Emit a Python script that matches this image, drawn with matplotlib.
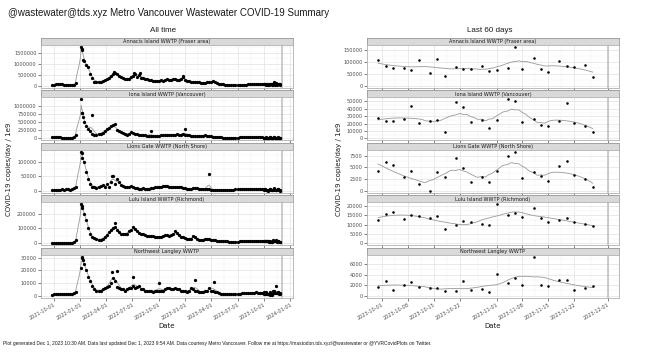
import numpy as np
import pandas as pd
import matplotlib
matplotlib.use("Agg")
import matplotlib.pyplot as plt
import matplotlib.dates as mdates
from matplotlib.ticker import MultipleLocator, FuncFormatter, FixedLocator

plants = [
    "Annacis Island WWTP (Fraser area)",
    "Iona Island WWTP (Vancouver)",
    "Lions Gate WWTP (North Shore)",
    "Lulu Island WWTP (Richmond)",
    "Northwest Langley WWTP",
]

# all time: weekly readings (thousands) from 2021-09-25 to 2023-09-23, nan = no sample
week_start = "2021-09-25"
nan = np.nan
annacis_k = [60, 65, 70, 70, 75, 70, 60, 50, 40, 35, 35, 50, 150, nan, nan, 1650, 1100, 950, 850, 550,
             350, 200, 180, 200, 190, 210, 250, 300, 350, 450, 550, 580, 520, 450, 400, 350, 320, 300, 330, 400,
             450, 550, 420, 480, 380, 350, 320, 300, 280, 250, 230, 220, 210, 230, 250, 230, 280, 320, 290, 260,
             300, 330, 280, 260, 300, 420, 270, 240, 220, 200, 190, 180, 170, 160, 150, 140, 150, 160, 180, 200,
             210, 170, 140, 110, 90, 70, 60, 50, 45, 40, 35, 30, 30, 35, 40, 50, 60, 70, 75, 80,
             85, 80, 90, 85, 95]
iona_k = [35, 35, 30, 30, 30, 25, 25, 25, 20, 20, 25, 40, 100, nan, nan, 760, 500, 380, 300, 220,
          150, 120, 110, 130, 150, 180, 230, 280, 330, 380, 420, 450, 250, 220, 200, 160, 130, 120, 150, 200,
          180, 150, 130, 110, 100, 90, 100, 80, 80, 70, 70, 70, 80, 80, 90, 100, 110, 120, 100, 110,
          120, 110, 130, 120, 110, 150, 120, 100, 90, 80, 70, 60, 60, 60, 70, 80, 90, 80, 70, 60,
          50, 45, 40, 35, 30, 25, 25, 25, 25, 25, 25, 25, 25, 30, 30, 35, 35, 35, 35, 40,
          35, 40, 35, 30, 30]
lions_k = [4, 3, 4, 4, 3, 5, 4, 6, 5, 4, 5, 10, 15, nan, nan, 130, 100, 65, 40, 25,
           15, 15, 10, 15, 18, 20, 15, 25, 15, 30, 50, 25, 40, 30, 20, 18, 15, 12, 15, 18,
           12, 10, 10, 8, 8, 10, 8, 8, 8, 10, 10, 12, 12, 14, 15, 16, 18, 18, 15, 15,
           12, 14, 15, 14, 12, 10, 10, 8, 6, 8, 10, 11, 10, 8, 6, 5, 5, 5, 5, 4,
           4, 4, 4, 4, 4, 3, 4, 4, 4, 4, 4, 5, 5, 5, 6, 6, 5, 5, 6, 6,
           5, 6, 5, 5, 5]
lulu_k = [3, 3, 3, 3, 3, 3, 3, 3, 3, 4, 5, 8, 20, nan, nan, 250, 200, 160, 100, 60,
          40, 35, 30, 25, 25, 30, 40, 55, 75, 90, 105, 110, 90, 75, 65, 60, 60, 65, 80, 90,
          110, 95, 85, 70, 65, 60, 55, 50, 50, 50, 48, 45, 45, 42, 45, 50, 55, 55, 50, 55,
          60, 80, 70, 55, 45, 40, 35, 30, 28, 30, 50, 40, 30, 25, 22, 25, 28, 30, 28, 25,
          22, 20, 18, 15, 14, 13, 12, 12, 11, 10, 10, 10, 11, 12, 14, 15, 16, 17, 16, 15,
          15, 14, 14, 14, 13]
langley_k = [0.8, 1.2, 1.5, 1.2, 1.0, 1.5, 1.2, 1.0, 1.5, 1.2, 1.0, 2.0, 3.0, nan, nan, 30, 25, 20, 15, 12,
             8, 5, 4, 3.5, 4, 5, 6, 7, 8, 10, 14, 12, 7, 6, 5, 5, 4, 5, 6, 6,
             8, 6, 7, 8, 5, 5, 4, 4, 4, 4, 3, 4, 4, 4, 4, 4, 5, 6, 6, 5,
             5, 6, 5, 5, 4, 4, 4, 3, 4, 6, 5, 4, 4, 3, 3, 3, 4, 4, 6, 4,
             4, 3, 2.5, 2, 1.5, 1.2, 1, 1, 1, 1, 1, 1, 1.2, 1.5, 1.8, 2, 2, 2, 2, 2.2,
             2.2, 2.5, 2, 2, 2]

# extra single samples standing out of the weekly band (date, thousands)
extra_dates = [
    ["2022-01-04", "2022-01-06", "2022-01-11", "2022-04-27", "2022-07-06", "2022-07-27", "2022-12-23"],
    ["2022-01-04", "2022-01-06", "2022-01-11", "2022-02-10", "2022-09-03", "2022-12-31"],
    ["2022-01-04", "2022-01-06", "2022-04-21", "2023-03-23"],
    ["2022-01-04", "2022-01-06", "2022-05-03"],
    ["2022-01-04", "2022-01-06", "2022-01-11", "2022-04-21", "2022-05-09", "2022-07-04", "2022-10-02",
     "2023-02-05", "2023-04-10"],
]
extra_k = [
    [1750, 1600, 1150, 620, 600, 590, 450],
    [1190, 770, 650, 700, 230, 280],
    [135, 115, 50, 57],
    [265, 240, 135],
    [22, 31, 28, 18.5, 19.5, 14.5, 10, 12.5, 10.5],
]

# last 60 days
recent_dates = ["2023-09-30", "2023-10-02", "2023-10-04", "2023-10-07", "2023-10-09", "2023-10-11",
                "2023-10-14", "2023-10-16", "2023-10-18", "2023-10-21", "2023-10-23", "2023-10-25",
                "2023-10-28", "2023-10-30", "2023-11-01", "2023-11-04", "2023-11-06", "2023-11-08",
                "2023-11-11", "2023-11-13", "2023-11-15", "2023-11-18", "2023-11-20", "2023-11-22",
                "2023-11-25", "2023-11-27"]
annacis_recent = [107000, 82000, 76000, 76000, 68000, 110000, 54000, 112000, 43000, 81000, 72000, 72000,
                  84000, 63000, 65000, 75000, 163000, 69000, 119000, 73000, 59000, 106000, 85000, 79000,
                  88000, 38000]
iona_recent = [27600, 23800, 23800, 26700, 43800, 20500, 23800, 24300, 9000, 49000, 42400, 22900,
               24300, 14800, 25200, 52900, 50000, 22900, 26700, 18100, 17100, 23800, 47600, 21400,
               17100, 8600]
lions_recent = [4150, 6120, 5390, 2920, 4150, 1380, 50, 3940, 2840, 6920, 4880, 1970,
                2840, 1900, 4230, 7360, 8310, 2770, 3940, 3210, 2110, 5250, 6410, 3350,
                2550, 870]
lulu_recent = [12600, 15800, 16700, 13200, 15000, 14700, 13400, 14700, 7700, 10100, 11900, 11400,
               10400, 9700, 21100, 15400, 16500, 14100, 18900, 13700, 11500, 12300, 13600, 11200,
               10300, 9300]
langley_recent = [1670, 2800, 1130, 2070, 2530, 1670, 1400, 1470, 930, 800, 2870, 1000,
                  1330, 670, 4070, 2400, 3400, 2000, 7470, 2000, 1800, 2930, 2930, 1130,
                  1530, 1930]

today = "2023-12-01"
footer = ("Plot generated Dec 1, 2023 10:30 AM. Data last updated Dec 1, 2023 9:54 AM. "
          "Data courtesy Metro Vancouver. Follow me at https://mastodon.tds.xyz/@wastewater "
          "or @YVRCovidPlots on Twitter.")

weekly = [annacis_k, iona_k, lions_k, lulu_k, langley_k]
recent = [annacis_recent, iona_recent, lions_recent, lulu_recent, langley_recent]

all_steps = [500000, 250000, 50000, 100000, 10000]
recent_steps = [50000, 10000, 2500, 5000, 2000]


def loess(x, y, xs, span, deg):
    ok = ~np.isnan(y)
    x, y = x[ok], y[ok]
    k = max(int(np.ceil(span * len(x))), deg + 2)
    out = []
    for x0 in xs:
        d = np.abs(x - x0)
        h = np.sort(d)[k - 1] * 1.0001
        w = np.clip(1 - (d / h) ** 3, 0, None) ** 3
        sel = w > 0
        c = np.polyfit(x[sel] - x0, y[sel], deg, w=np.sqrt(w[sel]))
        out.append(c[-1])
    return np.array(out)


W, H = 652, 353
fig = plt.figure(figsize=(W / 100, H / 100), dpi=100)


def box(x0, top, w, h):
    return [x0 / W, 1 - (top + h) / H, w / W, h / H]


GRAY = "#4d4d4d"
tdate = pd.Timestamp(today)


def style_panel(ax, step, xmajor, xminor):
    ax.set_facecolor("white")
    for s in ax.spines.values():
        s.set_color("#b0b0b0")
        s.set_linewidth(0.6)
    ax.yaxis.set_major_locator(MultipleLocator(step))
    ax.yaxis.set_minor_locator(MultipleLocator(step / 2))
    ax.yaxis.set_major_formatter(FuncFormatter(lambda v, p: "%d" % v))
    ax.xaxis.set_major_locator(xmajor)
    ax.xaxis.set_minor_locator(xminor)
    ax.grid(which="major", color="#e6e6e6", lw=0.6)
    ax.grid(which="minor", color="#f2f2f2", lw=0.35)
    ax.set_axisbelow(True)
    ax.tick_params(axis="both", which="major", length=2, width=0.5, color=GRAY,
                   labelsize=3.6, labelcolor=GRAY, pad=1)
    ax.tick_params(axis="both", which="minor", length=0)


def add_strip(x0, top, w, text):
    s = fig.add_axes(box(x0, top, w, 7))
    s.set_facecolor("#d9d9d9")
    for sp in s.spines.values():
        sp.set_color("#8c8c8c")
        sp.set_linewidth(0.5)
    s.set_xticks([])
    s.set_yticks([])
    s.text(0.5, 0.45, text, ha="center", va="center", fontsize=3.6, color="#1a1a1a",
           transform=s.transAxes)


# quarterly / weekly break helpers
q_major = pd.to_datetime(["2021-07-01", "2021-10-01", "2022-01-01", "2022-04-01", "2022-07-01",
                          "2022-10-01", "2023-01-01", "2023-04-01", "2023-07-01", "2023-10-01",
                          "2024-01-01", "2024-04-01"])
q_minor = q_major[:-1] + (q_major[1:] - q_major[:-1]) / 2
w_major = pd.to_datetime(["2023-09-22", "2023-10-01", "2023-10-08", "2023-10-15", "2023-10-22",
                          "2023-11-01", "2023-11-08", "2023-11-15", "2023-11-22", "2023-12-01",
                          "2023-12-08"])
w_minor = w_major[:-1] + (w_major[1:] - w_major[:-1]) / 2

strip_top0 = 38
pitch = 52.4
panel_h = 43
cols = [(40.7, 252.3), (366.7, 252.3)]

for col, (x0, w) in enumerate(cols):
    for i, name in enumerate(plants):
        top = strip_top0 + pitch * i
        add_strip(x0, top, w, name)
        ax = fig.add_axes(box(x0, top + 7, w, panel_h))

        if col == 0:
            d = pd.date_range(week_start, periods=len(weekly[i]), freq="7D")
            v = np.array(weekly[i], dtype=float) * 1000
            dd = np.concatenate([d.values, pd.to_datetime(extra_dates[i]).values,
                                 pd.to_datetime(recent_dates).values])
            vv = np.concatenate([v, np.array(extra_k[i]) * 1000, np.array(recent[i], dtype=float)])
            order = np.argsort(dd)
            dd, vv = dd[order], vv[order]
            span, deg, ms = 0.045, 1, 5.5
            style_panel(ax, all_steps[i],
                        mdates.MonthLocator(bymonth=[1, 4, 7, 10]),
                        FixedLocator(mdates.date2num(q_minor)))
        else:
            dd = pd.to_datetime(recent_dates).values
            vv = np.array(recent[i], dtype=float)
            span, deg, ms = 0.45, 2, 3.4
            style_panel(ax, recent_steps[i],
                        mdates.DayLocator(bymonthday=[1, 8, 15, 22]),
                        FixedLocator(mdates.date2num(w_minor)))

        xn = mdates.date2num(pd.to_datetime(dd))
        ok = ~np.isnan(vv)
        xs = np.linspace(xn[ok].min(), xn[ok].max(), 300)
        ys = loess(xn, vv, xs, span, deg)

        ax.axvline(tdate, color="#bdbdbd", lw=1.1, zorder=1)
        ax.plot(mdates.num2date(xs), ys, color="#9a9a9a", lw=0.6, zorder=2)
        ax.scatter(pd.to_datetime(dd[ok]), vv[ok], s=ms, color="black", linewidths=0, zorder=3)

        # y axis always reaches 0, with ggplot-like 5% expansion
        hi = np.nanmax(vv)
        ax.set_ylim(-hi * 0.05, hi * 1.05)
        x_lo, x_hi = xn[ok].min(), mdates.date2num(tdate)
        xpad = (x_hi - x_lo) * 0.05
        ax.set_xlim(x_lo - xpad, x_hi + xpad)

        ax.xaxis.set_major_formatter(mdates.DateFormatter("%Y-%m-%d"))
        if i < len(plants) - 1:
            ax.tick_params(axis="x", labelbottom=False)
        else:
            for lab in ax.get_xticklabels():
                lab.set_rotation(30)
                lab.set_ha("right")
                lab.set_va("top")
                lab.set_rotation_mode("anchor")
            ax.set_xlabel("Date", fontsize=5, color="#1a1a1a", labelpad=2)

fig.text(8 / W, 1 - 13.5 / H, "@wastewater@tds.xyz Metro Vancouver Wastewater COVID-19 Summary",
         ha="left", va="center", fontsize=7.0, family="Liberation Sans", color="#1a1a1a")
fig.text(162.7 / W, 1 - 30.5 / H, "All time", ha="center", va="center", fontsize=5.8,
         family="Liberation Sans", color="#1a1a1a")
fig.text(490 / W, 1 - 30.5 / H, "Last 60 days", ha="center", va="center", fontsize=5.8,
         family="Liberation Sans", color="#1a1a1a")
fig.text(9 / W, 1 - 169 / H, "COVID-19 copies/day / 1e9", rotation=90, ha="center", va="center",
         fontsize=5, color="#1a1a1a")
fig.text(339 / W, 1 - 169 / H, "COVID-19 copies/day / 1e9", rotation=90, ha="center", va="center",
         fontsize=5, color="#1a1a1a")
fig.text(3 / W, 1 - 343 / H, footer, ha="left", va="center", fontsize=3.55,
         family="Liberation Sans", color="#1a1a1a")

fig.savefig("out.png", dpi=100)
